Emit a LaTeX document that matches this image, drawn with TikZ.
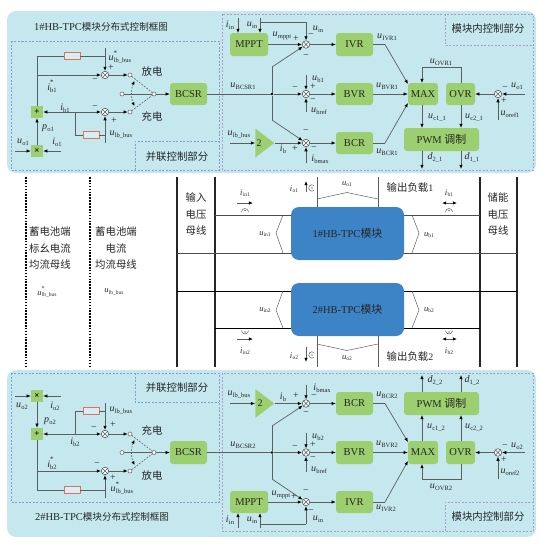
\documentclass[tikz,border=0pt]{standalone}
\usepackage{fontspec}
\setmainfont{Liberation Serif}
\newfontfamily\cjk[Scale=1.04]{Noto Sans CJK SC}
\usetikzlibrary{arrows.meta,shapes.geometric}
\newcommand{\zh}[1]{{\cjk #1}}
\newcommand{\vr}[2]{\textit{#1}\kern0.2pt\raisebox{-2pt}{\fontsize{6.5}{7}\selectfont #2}}
\newcommand{\vst}[2]{\textit{#1}\rlap{\raisebox{5.5pt}{\fontsize{7}{7}\selectfont *}}\kern0.2pt\raisebox{-2pt}{\fontsize{6.5}{7}\selectfont #2}}
\newcommand{\vm}[2]{{\fontsize{8.5}{9}\selectfont\textit{#1}}\kern0.2pt\raisebox{-1.5pt}{\fontsize{5.5}{6}\selectfont #2}}
\newcommand{\vmst}[2]{{\fontsize{8.5}{9}\selectfont\textit{#1}}\rlap{\raisebox{5pt}{\fontsize{6}{6}\selectfont *}}\kern0.2pt\raisebox{-1.5pt}{\fontsize{5.5}{6}\selectfont #2}}
\newcommand{\ttl}[1]{{\fontsize{10.5}{11}\selectfont #1\#HB-TPC}{\fontsize{9.2}{11}\selectfont\cjk 模块分布式控制框图}}
\newcounter{lc}
\newcommand{\T}[3]{\stepcounter{lc}\node[lab] (t\arabic{lc}) at (#1,#2) {#3};}
\definecolor{panelc}{HTML}{C5E8EE}
\definecolor{greenc}{HTML}{9CCF6F}
\definecolor{bluec}{HTML}{3C84C6}
\definecolor{linec}{HTML}{5A5F60}
\definecolor{boxa}{HTML}{7F9FCC}
\definecolor{boxb}{HTML}{A99FC4}
\definecolor{resc}{HTML}{E0705F}
\tikzset{
  lab/.style={inner sep=0pt,font=\fontsize{10}{11}\selectfont,text=black!85},
  panel/.style={fill=panelc,rounded corners=9pt,draw=none},
  dboxa/.style={draw=boxa,dashed,line width=0.6pt,dash pattern=on 2pt off 1.5pt},
  dboxb/.style={draw=boxb,dashed,line width=0.6pt,dash pattern=on 2pt off 1.5pt},
  gblock/.style={fill=greenc,rounded corners=3pt,inner sep=0pt,font=\fontsize{10.5}{11}\selectfont,text=black!85},
  opblock/.style={fill=greenc,minimum size=12pt,inner sep=0pt,font=\fontsize{9}{9}\selectfont\bfseries},
  sumn/.style={circle,draw=linec,fill=white!85!panelc,minimum size=7.5pt,inner sep=0pt,line width=0.6pt,
    path picture={\draw[linec,line width=0.5pt] (path picture bounding box.north west)--(path picture bounding box.south east)
    (path picture bounding box.north east)--(path picture bounding box.south west);}},
  swc/.style={circle,draw=linec,fill=white,minimum size=4pt,inner sep=0pt,line width=0.5pt},
  res/.style={draw=resc,fill=panelc!70!white,minimum width=16pt,minimum height=7pt,inner sep=0pt,line width=0.7pt},
  tri/.style={isosceles triangle,isosceles triangle apex angle=74,fill=greenc,inner sep=0pt,minimum height=19pt,minimum width=25pt,shape border rotate=0},
  junc/.style={circle,fill=black,minimum size=2.6pt,inner sep=0pt},
  wire/.style={draw=linec,line width=0.7pt},
  ar/.style={wire,-{Latex[length=4.2pt,width=3.4pt,black]}},
  arr/.style={wire,{Latex[length=4.2pt,width=3.4pt,black]}-{Latex[length=4.2pt,width=3.4pt,black]}},
  swdash/.style={draw=linec,line width=0.6pt,dash pattern=on 1.8pt off 1.3pt},
  dotbus/.style={draw=black,line width=1.7pt,dash pattern=on 1.6pt off 1.3pt},
  busa/.style={draw=black!85,line width=1.1pt},
  busb/.style={draw=black!85,line width=1.6pt},
  hbusg/.style={draw=black!70,line width=0.8pt},
  hbusk/.style={draw=black,line width=0.8pt},
  thin gray/.style={draw=linec,line width=0.5pt},
  module/.style={fill=bluec,rounded corners=8pt,minimum width=113pt,minimum height=53pt,inner sep=0pt,font=\fontsize{10.5}{11}\selectfont,text=black!85},
}
\begin{document}
\begin{tikzpicture}[x=1pt,y=-1pt]
\useasboundingbox (0,0) rectangle (541,544);
% panels
\fill[panel] (7,11) rectangle (536,173);
\fill[panel] (7,370) rectangle (536,537);
% ------------ top panel frames
\draw[dboxa] (11,41) rectangle (219,170);
\draw[dboxa] (135,170) -- (135,141) -- (219,141);
\draw[dboxb] (222,14) rectangle (533,170);
\draw[dboxb] (445,14) -- (445,45) -- (533,45);
\T{101}{27}{\ttl{1}}
\T{177}{157}{\zh{并联控制部分}}
\T{488}{29}{\zh{模块内控制部分}}
% ------------ top left
\node[res] (aR1) at (72,56) {};
\node[res] (aR2) at (91,135) {};
\node[sumn] (aS1) at (105,75) {};
\node[sumn] (aS2) at (105,112) {};
\node[opblock] (aP) at (37,112) {+};
\node[opblock] (aX) at (37,151) {×};
\node[swc] (aC1) at (130,75) {};
\node[swc] (aC2) at (122,94) {};
\node[swc] (aC3) at (154,94) {};
\node[swc] (aC4) at (130,112) {};
\node[gblock,minimum width=37pt,minimum height=22pt] (aB) at (188.5,94) {BCSR};
\coordinate (aL1) at (37,75); \coordinate (aL2) at (37,56); \coordinate (aL3) at (105,56); \coordinate (aL4) at (105,48);
\coordinate (aL5) at (75,112); \coordinate (aL6) at (75,135); \coordinate (aL7) at (105,135); \coordinate (aL8) at (105,143);
\coordinate (aUo) at (15,151); \coordinate (aIo) at (61,151);
\coordinate (aA1) at (134.5,81); \coordinate (aA2) at (134.5,106);
\draw[wire] (aP) -- (aL2) -- (aR1) -- (aL3);
\draw[wire] (aL4) -- (aL3);
\draw[ar] (aL3) -- (aS1);
\draw[ar] (aL1) -- (aS1);
\draw[arr] (aP) -- (aS2);
\draw[wire] (aL5) -- (aL6) -- (aR2) -- (aL7);
\draw[wire] (aL8) -- (aL7);
\draw[ar] (aL7) -- (aS2);
\draw[ar] (aX) -- (aP);
\draw[ar] (aUo) -- (aX);
\draw[ar] (aIo) -- (aX);
\draw[ar] (aS1) -- (aC1);
\draw[ar] (aS2) -- (aC4);
\draw[wire] (aC2) -- (aC3);
\draw[swdash] (aC1) -- (aC3) (aC4) -- (aC3);
\draw[swdash,{Latex[length=3.6pt,width=3.2pt,black]}-{Latex[length=3.6pt,width=3.2pt,black]}] (aA1) .. controls (131,88) and (131,99) .. (aA2);
\draw[ar] (aC3) -- (aB);
\T{120}{57}{\vst{u}{lb\_bus}}
\T{152}{72}{\zh{放电}}
\T{152}{117}{\zh{充电}}
\T{111}{68}{+}
\T{95}{81}{−}
\T{52}{86}{\vst{i}{b1}}
\T{65}{108}{\vr{i}{b1}}
\T{95}{108}{−}
\T{114}{121}{+}
\T{48}{128}{\vr{p}{o1}}
\T{121}{135}{\vr{u}{lb\_bus}}
\T{23}{142}{\vr{u}{o1}}
\T{57}{142}{\vr{i}{o1}}
% ------------ top right
\node[gblock,minimum width=38pt,minimum height=23pt] (aM) at (249,44.5) {MPPT};
\node[gblock,minimum width=37pt,minimum height=23pt] (aIV) at (354.5,44.5) {IVR};
\node[gblock,minimum width=37pt,minimum height=22pt] (aBV) at (354.5,94) {BVR};
\node[gblock,minimum width=37pt,minimum height=22pt] (aBC) at (354.5,143) {BCR};
\node[gblock,minimum width=30pt,minimum height=22pt] (aMX) at (423,94) {MAX};
\node[gblock,minimum width=29pt,minimum height=22pt] (aOV) at (460.5,94) {OVR};
\node[gblock,minimum width=75pt,minimum height=23pt] (aPW) at (441.5,139.5) {PWM \zh{调制}};
\node[tri] (aTr) at (262.5,143) {};
\node[lab] (aTrL) at (259,143) {2};
\node[sumn] (aT1) at (306,44.5) {};
\node[sumn] (aT2) at (306,94) {};
\node[sumn] (aT3) at (306,143) {};
\node[sumn] (aT4) at (498,94) {};
\node[junc] (aJ) at (272,94) {};
\coordinate (aK1) at (272,67); \coordinate (aK2) at (272,120);
\coordinate (aI1) at (238,18); \coordinate (aI1e) at (238,33);
\coordinate (aI2) at (260,18); \coordinate (aI2e) at (260,33); \coordinate (aI2b) at (260,22); \coordinate (aI2c) at (306,22);
\coordinate (aIb) at (385,44.5); \coordinate (aIc) at (408,84);
\coordinate (aCb) at (385,143); \coordinate (aCc) at (408,103);
\coordinate (aO1) at (461,83); \coordinate (aO2) at (461,67.5); \coordinate (aO3) at (422,67.5); \coordinate (aO4) at (422,83);
\coordinate (aU1) at (422,105); \coordinate (aU2) at (422,128); \coordinate (aU3) at (461,105); \coordinate (aU4) at (461,128);
\coordinate (aD1) at (422,151); \coordinate (aD2) at (422,169); \coordinate (aD3) at (461,151); \coordinate (aD4) at (461,169);
\coordinate (aV1) at (306,75); \coordinate (aV2) at (306,112); \coordinate (aV3) at (306,163);
\coordinate (aW1) at (525,94); \coordinate (aW2) at (498,120); \coordinate (aLb) at (230,143);
\draw[wire] (aB) -- (aJ);
\draw[ar] (aJ) -- (aT2);
\draw[wire] (aJ) -- (aK1); \draw[ar] (aK1) -- (aT1);
\draw[wire] (aJ) -- (aK2); \draw[ar] (aK2) -- (aT3);
\draw[ar] (aI1) -- (aI1e);
\draw[ar] (aI2) -- (aI2e);
\draw[wire] (aI2b) -- (aI2c); \draw[ar] (aI2c) -- (aT1);
\draw[ar] (aM) -- (aT1);
\draw[ar] (aT1) -- (aIV); \draw[ar] (aT2) -- (aBV); \draw[ar] (aT3) -- (aBC);
\draw[ar] (aV1) -- (aT2); \draw[ar] (aV2) -- (aT2); \draw[ar] (aV3) -- (aT3);
\draw[ar] (aLb) -- (aTr.west);
\draw[ar] (aTr.east) -- (aT3);
\draw[wire] (aIV) -- (aIb); \draw[ar] (aIb) -- (aIc);
\draw[ar] (aBV) -- (aMX);
\draw[wire] (aBC) -- (aCb); \draw[ar] (aCb) -- (aCc);
\draw[wire] (aO1) -- (aO2) -- (aO3); \draw[ar] (aO3) -- (aO4);
\draw[ar] (aU1) -- (aU2); \draw[ar] (aU3) -- (aU4);
\draw[ar] (aD1) -- (aD2); \draw[ar] (aD3) -- (aD4);
\draw[ar] (aT4) -- (aOV); \draw[ar] (aW1) -- (aT4); \draw[ar] (aW2) -- (aT4);
\T{230}{25}{\vr{i}{in}}
\T{252}{25}{\vr{u}{in}}
\T{282}{36}{\vr{u}{mppt}}
\T{296}{39}{+}
\T{311}{36}{−}
\T{318}{29}{\vr{u}{in}}
\T{306}{57}{−}
\T{387}{37}{\vr{u}{IVR1}}
\T{441}{62}{\vr{u}{OVR1}}
\T{243}{86}{\vr{u}{BCSR1}}
\T{295}{89}{−}
\T{318}{79}{\vr{u}{b1}}
\T{313}{87}{+}
\T{313}{101}{−}
\T{319}{111}{\vr{u}{bref}}
\T{387}{86}{\vr{u}{BVR1}}
\T{517}{86}{\vr{u}{o1}}
\T{505}{89}{−}
\T{504}{101}{+}
\T{510}{114}{\vr{u}{oref1}}
\T{437}{118}{\vr{u}{c1\_1}}
\T{474}{118}{\vr{u}{c2\_1}}
\T{435}{157}{\vr{d}{2\_1}}
\T{472}{157}{\vr{d}{1\_1}}
\T{239}{135}{\vr{u}{lb\_bus}}
\T{283}{149}{\vr{i}{b}}
\T{295}{149}{+}
\T{306}{132}{−}
\T{314}{148.5}{−}
\T{320}{159.5}{\vr{i}{bmax}}
\T{387}{152}{\vr{u}{BCR1}}
% ------------ middle
\coordinate (dA1) at (26,177); \coordinate (dA2) at (26,367);
\coordinate (dB1) at (90,177); \coordinate (dB2) at (90,367);
\coordinate (bA1) at (177,177); \coordinate (bA2) at (177,367);
\coordinate (bB1) at (215,177); \coordinate (bB2) at (215,367);
\coordinate (bC1) at (480,177); \coordinate (bC2) at (480,367);
\coordinate (bD1) at (517,177); \coordinate (bD2) at (517,367);
\draw[dotbus] (dA1) -- (dA2);
\draw[dotbus] (dB1) -- (dB2);
\draw[busa] (bA1) -- (bA2);
\draw[busb] (bB1) -- (bB2);
\draw[busa] (bC1) -- (bC2);
\draw[busa] (bD1) -- (bD2);
\coordinate (h1a) at (215,215); \coordinate (h1b) at (480,215);
\coordinate (h2a) at (177,253); \coordinate (h2b) at (517,253);
\coordinate (h3a) at (177,291); \coordinate (h3b) at (517,291);
\coordinate (h4a) at (215,328); \coordinate (h4b) at (480,328);
\draw[hbusg] (h1a) -- (h1b);
\draw[hbusg] (h2a) -- (h2b);
\draw[hbusk] (h3a) -- (h3b);
\draw[hbusk] (h4a) -- (h4b);
\coordinate (o1a) at (317,177); \coordinate (o1b) at (317,207);
\coordinate (o2a) at (378,177); \coordinate (o2b) at (378,207);
\coordinate (o3a) at (317,336); \coordinate (o3b) at (317,367);
\coordinate (o4a) at (378,336); \coordinate (o4b) at (378,367);
\draw[wire,line width=1pt] (o1a) -- (o1b);
\draw[wire,line width=1pt] (o2a) -- (o2b);
\draw[wire,line width=1pt] (o3a) -- (o3b);
\draw[wire,line width=1pt] (o4a) -- (o4b);
\node[module] (M1) at (347.5,233.5) {1\#HB-TPC\zh{模块}};
\node[module] (M2) at (347.5,309.5) {2\#HB-TPC\zh{模块}};
% voltage brackets
\draw[thin gray] (283,215) -- (276,233) -- (283,253);
\draw[thin gray] (283,291) -- (276,310) -- (283,328);
\draw[thin gray] (412,215) -- (419,233) -- (412,253);
\draw[thin gray] (412,291) -- (419,310) -- (412,328);
\draw[thin gray] (317,199) -- (347,192.5) -- (378,199);
\draw[thin gray] (317,344) -- (347,350.5) -- (378,344);
% current arrows
\coordinate (ci1a) at (237,203); \coordinate (ci1b) at (253,203);
\coordinate (ci2a) at (237,339); \coordinate (ci2b) at (253,339);
\coordinate (cb1a) at (442,203); \coordinate (cb1b) at (457,203);
\coordinate (cb2a) at (442,339); \coordinate (cb2b) at (457,339);
\coordinate (co1a) at (306,192); \coordinate (co1b) at (306,181);
\coordinate (co2a) at (306,347); \coordinate (co2b) at (306,362);
\draw[ar] (ci1a) -- (ci1b);
\draw[ar] (ci2a) -- (ci2b);
\draw[arr] (cb1a) -- (cb1b);
\draw[arr] (cb2a) -- (cb2b);
\draw[ar] (co1a) -- (co1b);
\draw[ar] (co2a) -- (co2b);
% current direction symbols
\fill[black] (245,210.5) circle (0.7pt) (449,210.5) circle (0.7pt) (245,332) circle (0.7pt) (449,332) circle (0.7pt) (312,188) circle (0.7pt) (312,355) circle (0.7pt);
\draw[thin gray] (241.5,212) arc[start angle=180,end angle=0,radius=3.5pt];
\draw[thin gray] (445.5,212) arc[start angle=180,end angle=0,radius=3.5pt];
\draw[thin gray] (241.5,330.5) arc[start angle=180,end angle=360,radius=3.5pt];
\draw[thin gray] (445.5,330.5) arc[start angle=180,end angle=360,radius=3.5pt];
\draw[thin gray] (314,185.5) arc[start angle=50,end angle=310,radius=3.2pt];
\draw[thin gray] (314,352.5) arc[start angle=50,end angle=310,radius=3.2pt];
\T{50}{232}{\zh{蓄电池端}}
\T{50}{249}{\zh{标幺电流}}
\T{50}{265}{\zh{均流母线}}
\T{47}{292}{\vmst{u}{lb\_bus}}
\T{116}{232}{\zh{蓄电池端}}
\T{116}{249}{\zh{电流}}
\T{116}{265}{\zh{均流母线}}
\T{114}{292}{\vm{u}{lb\_bus}}
\T{196}{198}{\zh{输入}}
\T{196}{215}{\zh{电压}}
\T{196}{231}{\zh{母线}}
\T{498}{198}{\zh{储能}}
\T{498}{215}{\zh{电压}}
\T{498}{231}{\zh{母线}}
\T{245}{193}{\vm{i}{in1}}
\T{245}{351}{\vm{i}{in2}}
\T{265}{234}{\vm{u}{in1}}
\T{265}{310}{\vm{u}{in2}}
\T{429}{235}{\vm{u}{b1}}
\T{429}{310}{\vm{u}{b2}}
\T{347}{184}{\vm{u}{o1}}
\T{347}{358}{\vm{u}{o2}}
\T{294}{189}{\vm{i}{o1}}
\T{294}{356}{\vm{i}{o2}}
\T{449}{193}{\vm{i}{b1}}
\T{449}{351}{\vm{i}{b2}}
\T{410}{188}{\zh{输出负载}1}
\T{410}{357}{\zh{输出负载}2}
% ------------ bottom panel frames
\draw[dboxa] (11,373) rectangle (219,502);
\draw[dboxa] (135,373) -- (135,402) -- (219,402);
\draw[dboxb] (222,373) rectangle (533,531);
\draw[dboxb] (445,531) -- (445,502) -- (533,502);
\T{102}{517}{\ttl{2}}
\T{177}{388}{\zh{并联控制部分}}
\T{488}{517}{\zh{模块内控制部分}}
% ------------ bottom left
\node[res] (bR1) at (91,411) {};
\node[res] (bR2) at (72,490) {};
\node[sumn] (bS1) at (105,434) {};
\node[sumn] (bS2) at (105,471) {};
\node[opblock] (bP) at (37,434) {+};
\node[opblock] (bX) at (37,396) {×};
\node[swc] (bC1) at (130,434) {};
\node[swc] (bC2) at (122,452.5) {};
\node[swc] (bC3) at (154,452.5) {};
\node[swc] (bC4) at (130,471) {};
\node[gblock,minimum width=37pt,minimum height=23pt] (bB) at (188.5,452.5) {BCSR};
\coordinate (bL1) at (75,434); \coordinate (bL2) at (75,411); \coordinate (bL3) at (105,411); \coordinate (bL4) at (105,403);
\coordinate (bL5) at (37,471); \coordinate (bL6) at (37,490); \coordinate (bL7) at (105,490); \coordinate (bL8) at (105,498);
\coordinate (bUo) at (15,396); \coordinate (bIo) at (61,396);
\coordinate (bA1c) at (134.5,440); \coordinate (bA2c) at (134.5,465);
\draw[wire] (bL1) -- (bL2) -- (bR1) -- (bL3);
\draw[wire] (bL4) -- (bL3);
\draw[ar] (bL3) -- (bS1);
\draw[arr] (bP) -- (bS1);
\draw[ar] (bX) -- (bP);
\draw[ar] (bUo) -- (bX);
\draw[ar] (bIo) -- (bX);
\draw[wire] (bP) -- (bL6) -- (bR2) -- (bL7);
\draw[wire] (bL8) -- (bL7);
\draw[ar] (bL7) -- (bS2);
\draw[ar] (bL5) -- (bS2);
\draw[ar] (bS1) -- (bC1);
\draw[ar] (bS2) -- (bC4);
\draw[wire] (bC2) -- (bC3);
\draw[swdash] (bC1) -- (bC3) (bC4) -- (bC3);
\draw[swdash,{Latex[length=3.6pt,width=3.2pt,black]}-{Latex[length=3.6pt,width=3.2pt,black]}] (bA1c) .. controls (131,447) and (131,458) .. (bA2c);
\draw[ar] (bC3) -- (bB);
\T{22}{406}{\vr{u}{o2}}
\T{55}{406}{\vr{i}{o2}}
\T{50}{421}{\vr{p}{o2}}
\T{94}{429}{−}
\T{113}{425}{+}
\T{121}{411}{\vr{u}{lb\_bus}}
\T{75}{442}{\vr{i}{b2}}
\T{152}{431}{\zh{充电}}
\T{152}{476}{\zh{放电}}
\T{52}{463}{\vst{i}{b2}}
\T{97}{465}{−}
\T{113}{478}{+}
\T{122}{488}{\vst{u}{lb\_bus}}
% ------------ bottom right
\node[gblock,minimum width=75pt,minimum height=23pt] (bPW) at (441.5,403.5) {PWM \zh{调制}};
\node[gblock,minimum width=37pt,minimum height=23pt] (bBC) at (354.5,403.5) {BCR};
\node[gblock,minimum width=37pt,minimum height=23pt] (bBV) at (354.5,452.5) {BVR};
\node[gblock,minimum width=37pt,minimum height=22pt] (bIV) at (354.5,502) {IVR};
\node[gblock,minimum width=38pt,minimum height=22pt] (bM) at (249,502) {MPPT};
\node[gblock,minimum width=30pt,minimum height=23pt] (bMX) at (423,452.5) {MAX};
\node[gblock,minimum width=29pt,minimum height=23pt] (bOV) at (460.5,452.5) {OVR};
\node[tri] (bTr) at (262.5,403.5) {};
\node[lab] (bTrL) at (260,403.5) {2};
\node[sumn] (bT1) at (306,403.5) {};
\node[sumn] (bT2) at (306,452.5) {};
\node[sumn] (bT3) at (306,502) {};
\node[sumn] (bT4) at (498,452.5) {};
\node[junc] (bJ) at (272,452.5) {};
\coordinate (bK1) at (272,426); \coordinate (bK2) at (272,479);
\coordinate (bI1) at (238,528); \coordinate (bI1e) at (238,513);
\coordinate (bI2) at (260,528); \coordinate (bI2e) at (260,513); \coordinate (bI2b) at (260,524); \coordinate (bI2c) at (306,524);
\coordinate (bIb) at (385,502); \coordinate (bIc) at (408,461);
\coordinate (bCb) at (385,403.5); \coordinate (bCc) at (408,442);
\coordinate (bO1) at (461,464); \coordinate (bO2) at (461,479); \coordinate (bO3) at (422,479); \coordinate (bO4) at (422,464);
\coordinate (bU1) at (422,441); \coordinate (bU2) at (422,415); \coordinate (bU3) at (461,441); \coordinate (bU4) at (461,415);
\coordinate (bD1) at (422,392); \coordinate (bD2) at (422,375); \coordinate (bD3) at (461,392); \coordinate (bD4) at (461,375);
\coordinate (bV1) at (306,433); \coordinate (bV2) at (306,472); \coordinate (bV3) at (306,385);
\coordinate (bW1) at (525,452.5); \coordinate (bW2) at (498,479); \coordinate (bLb) at (230,403.5);
\draw[wire] (bB) -- (bJ);
\draw[ar] (bJ) -- (bT2);
\draw[wire] (bJ) -- (bK1); \draw[ar] (bK1) -- (bT1);
\draw[wire] (bJ) -- (bK2); \draw[ar] (bK2) -- (bT3);
\draw[ar] (bI1) -- (bI1e);
\draw[ar] (bI2) -- (bI2e);
\draw[wire] (bI2b) -- (bI2c); \draw[ar] (bI2c) -- (bT3);
\draw[ar] (bM) -- (bT3);
\draw[ar] (bT1) -- (bBC); \draw[ar] (bT2) -- (bBV); \draw[ar] (bT3) -- (bIV);
\draw[ar] (bV1) -- (bT2); \draw[ar] (bV2) -- (bT2); \draw[ar] (bV3) -- (bT1);
\draw[ar] (bLb) -- (bTr.west);
\draw[ar] (bTr.east) -- (bT1);
\draw[wire] (bIV) -- (bIb); \draw[ar] (bIb) -- (bIc);
\draw[ar] (bBV) -- (bMX);
\draw[wire] (bBC) -- (bCb); \draw[ar] (bCb) -- (bCc);
\draw[wire] (bO1) -- (bO2) -- (bO3); \draw[ar] (bO3) -- (bO4);
\draw[ar] (bU1) -- (bU2); \draw[ar] (bU3) -- (bU4);
\draw[ar] (bD1) -- (bD2); \draw[ar] (bD3) -- (bD4);
\draw[ar] (bT4) -- (bOV); \draw[ar] (bW1) -- (bT4); \draw[ar] (bW2) -- (bT4);
\T{239}{395}{\vr{u}{lb\_bus}}
\T{283}{397}{\vr{i}{b}}
\T{296}{396}{+}
\T{314}{397}{−}
\T{306}{414}{−}
\T{322}{388}{\vr{i}{bmax}}
\T{387}{395}{\vr{u}{BCR2}}
\T{243}{445}{\vr{u}{BCSR2}}
\T{295}{448}{−}
\T{318}{437}{\vr{u}{b2}}
\T{313}{445}{+}
\T{313}{459}{−}
\T{319}{470}{\vr{u}{bref}}
\T{387}{444}{\vr{u}{BVR2}}
\T{517}{446}{\vr{u}{o2}}
\T{505}{447}{−}
\T{504}{460}{+}
\T{510}{472}{\vr{u}{oref2}}
\T{436}{428}{\vr{u}{c1\_2}}
\T{474}{428}{\vr{u}{c2\_2}}
\T{435}{380}{\vr{d}{2\_2}}
\T{472}{380}{\vr{d}{1\_2}}
\T{441}{487}{\vr{u}{OVR2}}
\T{281}{495}{\vr{u}{mppt}}
\T{294}{497}{+}
\T{306}{492}{−}
\T{311}{512}{−}
\T{318}{519}{\vr{u}{in}}
\T{230}{520}{\vr{i}{in}}
\T{252}{520}{\vr{u}{in}}
\T{386}{508}{\vr{u}{IVR2}}
\end{tikzpicture}
\end{document}
